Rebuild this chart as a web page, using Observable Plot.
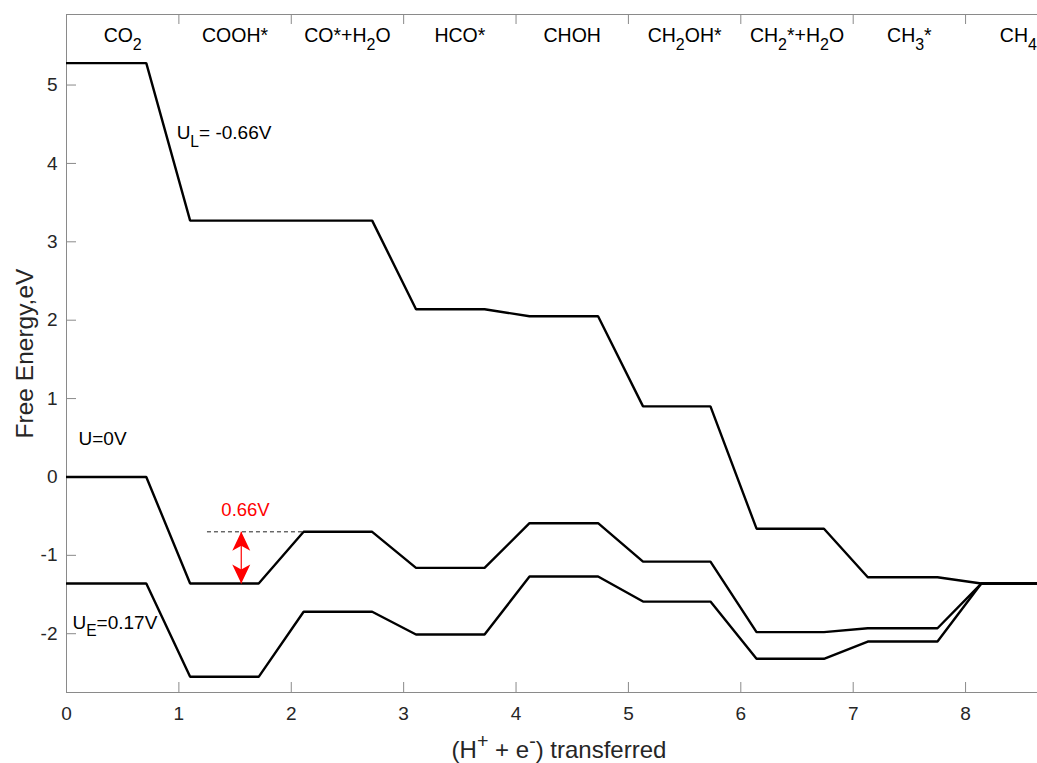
<!DOCTYPE html>
<html>
<head>
<meta charset="utf-8">
<script src="https://cdn.jsdelivr.net/npm/d3@7"></script>
<script src="https://cdn.jsdelivr.net/npm/@observablehq/plot@0.6"></script>
<style>
  html, body { margin: 0; padding: 0; background: #fff; overflow: hidden; }
</style>
</head>
<body>
<div id="chart"></div>
<script>
// Intermediates along the CO2 -> CH4 pathway, one per (H+ + e-) step.
// "_x" marks a subscript character, "^x" a superscript character.
const species = ["CO_2", "COOH*", "CO*+H_2O", "HCO*", "CHOH", "CH_2OH*", "CH_2*+H_2O", "CH_3*", "CH_4"];
const speciesCenter = [0.5, 1.5, 2.5, 3.5, 4.5, 5.5, 6.5, 7.5, 8.47];
const steps = [0, 1, 2, 3, 4, 5, 6, 7, 8];

// Horizontal extent of each free-energy level
const levelStart = [0, 1.10, 2.11, 3.11, 4.12, 5.13, 6.14, 7.13, 8.14];
const levelEnd   = [0.71, 1.71, 2.72, 3.72, 4.73, 5.73, 6.74, 7.75, 9.0];

// Free energy (eV) of each intermediate at three electrode potentials
const seriesNames = ["U_L= -0.66V", "U=0V", "U_E=0.17V"];
const energyUL = [5.28, 3.27, 3.27, 2.14, 2.05, 0.90, -0.66, -1.28, -1.36];
const energyU0 = [0, -1.36, -0.70, -1.16, -0.59, -1.08, -1.98, -1.93, -1.36];
const energyUE = [-1.36, -2.55, -1.72, -2.01, -1.27, -1.59, -2.32, -2.10, -1.36];

// Axis ticks
const xTicks = [0, 1, 2, 3, 4, 5, 6, 7, 8];
const yTicks = [-2, -1, 0, 1, 2, 3, 4, 5];

// Limiting step gap on the U=0V profile (COOH* -> CO*+H2O)
const gapLow = -1.36;
const gapHigh = -0.70;

// ---- layout ----
const W = 1037, H = 763;
const M = {top: 14, right: 0, bottom: 71, left: 66};
const innerW = W - M.left - M.right;
const innerH = H - M.top - M.bottom;
const xDomain = [0, 8.64];
const yDomain = [-2.75, 5.9];
const axisGray = "#8a8a8a";

// Step-profile vertices: each level drawn flat from its start to its end
const energies = [energyUL, energyU0, energyUE];
const profile = [];
seriesNames.forEach((name, s) => {
  steps.forEach(i => {
    profile.push({series: name, x: levelStart[i], e: energies[s][i]});
    profile.push({series: name, x: levelEnd[i], e: energies[s][i]});
  });
});

// Series label anchors (data coordinates)
const seriesLabelPos = [
  {x: 0.98, y: 4.39},
  {x: 0.107, y: 0.48},
  {x: 0.053, y: -1.86}
];

const gap = [{x: 1.555, lo: gapLow, hi: gapHigh, guideFrom: 1.25, guideTo: 2.11, labelX: 1.593, labelY: -0.42}];

// Concave ("vback") arrowheads, tip at the symbol origin
const headUp = {draw(ctx) { ctx.moveTo(0, 0); ctx.lineTo(9, 19); ctx.lineTo(0, 14); ctx.lineTo(-9, 19); ctx.closePath(); }};
const headDown = {draw(ctx) { ctx.moveTo(0, 0); ctx.lineTo(9, -19); ctx.lineTo(0, -14); ctx.lineTo(-9, -19); ctx.closePath(); }};

const fmt = d => String(d);

const chart = Plot.plot({
  width: W,
  height: H,
  marginTop: M.top,
  marginRight: M.right,
  marginBottom: M.bottom,
  marginLeft: M.left,
  style: {
    fontFamily: "'Liberation Sans', Arial, Helvetica, sans-serif",
    fontSize: "19px",
    color: "#262626",
    background: "#fff",
    overflow: "visible"
  },
  x: {domain: xDomain, ticks: xTicks, tickFormat: fmt, tickSize: 0, tickPadding: 14, label: null},
  y: {domain: yDomain, ticks: yTicks, tickFormat: fmt, tickSize: 0, tickPadding: 9, label: null},
  marks: [
    // axis box: left, bottom and top edges
    Plot.ruleX([xDomain[0]], {stroke: axisGray, strokeWidth: 1}),
    Plot.ruleY([yDomain[0]], {stroke: axisGray, strokeWidth: 1}),
    Plot.ruleY([yDomain[1]], {stroke: axisGray, strokeWidth: 1}),
    // inward tick marks
    Plot.ruleX(xTicks.filter(d => d > 0), {x: d => d, insetTop: innerH - 10, stroke: axisGray}),
    Plot.ruleX(xTicks.filter(d => d > 0), {x: d => d, insetBottom: innerH - 10, stroke: axisGray}),
    Plot.ruleY(yTicks, {y: d => d, insetRight: innerW - 10, stroke: axisGray}),

    // intermediate names along the top
    Plot.text(species, {x: (d, i) => speciesCenter[i], text: d => d, frameAnchor: "top", dy: 21, lineAnchor: "middle", fontSize: 19.5, fill: "#000"}),

    // free-energy profiles
    Plot.line(profile, {x: "x", y: "e", z: "series", stroke: "#000", strokeWidth: 2.4, strokeLinejoin: "miter", clip: true}),

    // potential labels
    Plot.text(seriesNames, {
      x: (d, i) => seriesLabelPos[i].x,
      y: (d, i) => seriesLabelPos[i].y,
      text: d => d, textAnchor: "start", lineAnchor: "middle", fontSize: 19, fill: "#000"
    }),

    // limiting-step gap: dashed guide, double arrow and its value
    Plot.link(gap, {x1: d => d.guideFrom, x2: d => d.guideTo, y1: d => d.hi, y2: d => d.hi, stroke: "#222", strokeWidth: 1, strokeDasharray: "4,3"}),
    Plot.link(gap, {x1: d => d.x, x2: d => d.x, y1: d => d.lo, y2: d => d.hi, stroke: "#ff0000", strokeWidth: 1.2}),
    Plot.dot(gap, {x: d => d.x, y: d => d.hi, symbol: headUp, fill: "#ff0000", stroke: "none"}),
    Plot.dot(gap, {x: d => d.x, y: d => d.lo, symbol: headDown, fill: "#ff0000", stroke: "none"}),
    Plot.text(gap, {x: d => d.labelX, y: d => d.labelY, text: d => (d.hi - d.lo).toFixed(2) + "V", fill: "#ff0000", fontSize: 18.5, lineAnchor: "middle"}),

    // axis titles
    Plot.text(["(H^+ + e^-) transferred"], {text: d => d, frameAnchor: "bottom", textAnchor: "middle", dx: 7, dy: 58, lineAnchor: "middle", fontSize: 24, fill: "#262626"}),
    Plot.text(["Free Energy,eV"], {text: d => d, frameAnchor: "left", textAnchor: "middle", dx: -41, rotate: -90, lineAnchor: "middle", fontSize: 24.5, fill: "#262626"})
  ]
});

// Render "_x" / "^x" markup as subscript / superscript tspans
function richText(root) {
  for (const el of root.querySelectorAll("text")) {
    const s = el.textContent;
    if (!/[_^]/.test(s)) continue;
    const fs = parseFloat(el.getAttribute("font-size")) || parseFloat(getComputedStyle(el).fontSize) || 19;
    const runs = [];
    for (let i = 0; i < s.length; i++) {
      const c = s[i];
      if ((c === "_" || c === "^") && i + 1 < s.length) {
        runs.push({t: s[i + 1], k: c === "_" ? 1 : -1});
        i++;
      } else if (runs.length && runs[runs.length - 1].k === 0) {
        runs[runs.length - 1].t += c;
      } else {
        runs.push({t: c, k: 0});
      }
    }
    el.textContent = "";
    let cur = 0;
    for (const r of runs) {
      const off = r.k === 1 ? 0.4 * fs : r.k === -1 ? -0.42 * fs : 0;
      const ts = document.createElementNS("http://www.w3.org/2000/svg", "tspan");
      if (off !== cur) ts.setAttribute("dy", off - cur);
      if (r.k) ts.setAttribute("font-size", 0.82 * fs);
      ts.textContent = r.t;
      el.appendChild(ts);
      cur = off;
    }
  }
}

document.getElementById("chart").appendChild(chart);
richText(chart);
</script>
</body>
</html>
